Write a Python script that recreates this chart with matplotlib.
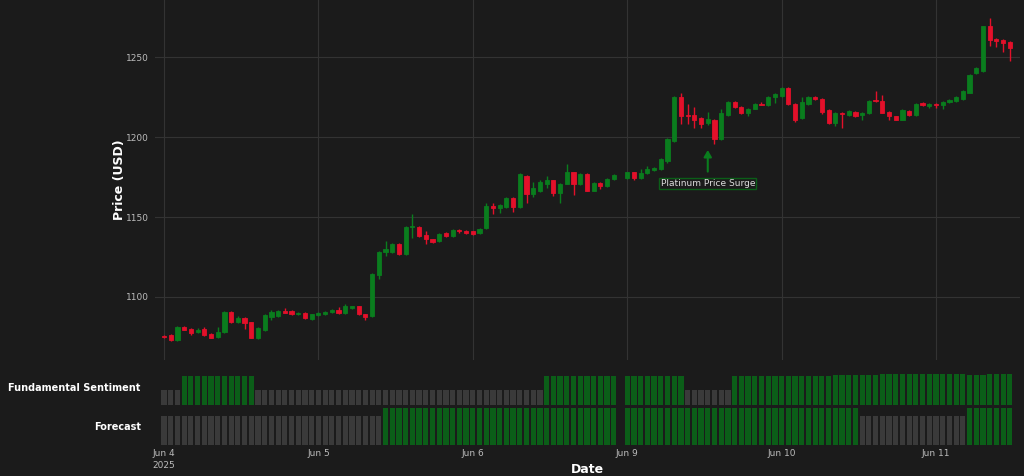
import matplotlib
matplotlib.use("Agg")
import matplotlib.pyplot as plt
import numpy as np

# hourly candles (index 68 = weekend break, no data)
opens = [1075.5, 1076, 1073, 1081, 1080, 1078, 1080, 1077, 1075, 1078,
         1090.5, 1084, 1087, 1084, 1074, 1079, 1087.5, 1088, 1091, 1091,
         1089, 1090, 1086, 1088.5, 1089, 1090.5, 1092, 1090, 1093, 1094,
         1089, 1088, 1113.5, 1128, 1128, 1133, 1127, 1144, 1144, 1138.5,
         1136, 1135, 1140, 1138, 1142, 1141.5, 1141, 1140, 1143, 1157,
         1155.5, 1156, 1162, 1156, 1176, 1164.5, 1166, 1171, 1173, 1165,
         1171, 1178, 1170.5, 1177, 1166.5, 1171.5, 1169.5, 1174, None, 1174.5,
         1178, 1174.5, 1177.5, 1179.5, 1180, 1185, 1197.5, 1225, 1214, 1214,
         1212, 1209, 1211, 1199, 1214, 1222, 1219, 1215.5, 1218, 1221,
         1220, 1225.5, 1226, 1231, 1221, 1212, 1221, 1225.5, 1224, 1217,
         1209, 1215.5, 1214, 1216, 1214, 1215, 1223, 1223, 1216, 1213,
         1211, 1216.5, 1214, 1221.5, 1219.5, 1221, 1220, 1222, 1222.5, 1224,
         1228, 1240, 1241.5, 1269.5, 1261.3, 1261, 1259.6]
closes = [1075, 1073, 1081, 1079.5, 1077.5, 1079.5, 1076, 1074.5, 1078, 1090.5,
          1084, 1086.5, 1083.5, 1074.5, 1080.5, 1088.5, 1090.5, 1091, 1090, 1089,
          1090, 1086.5, 1089, 1090, 1090.5, 1092, 1090, 1094, 1094, 1089,
          1087.5, 1114.5, 1128, 1130, 1133, 1127, 1144, 1144.5, 1138, 1136,
          1134.5, 1139.5, 1138, 1142, 1141, 1140, 1139.5, 1142.5, 1157, 1155.5,
          1157.5, 1162, 1156, 1177, 1164.5, 1168, 1172, 1173.5, 1165, 1171,
          1178.5, 1170.5, 1177, 1166.5, 1171.5, 1169.5, 1174, 1176.5, None, 1178,
          1174.5, 1177.5, 1180, 1181, 1186.5, 1199, 1225.5, 1213, 1213, 1211,
          1208, 1211.5, 1199, 1215.5, 1222, 1219, 1215.5, 1218, 1221, 1220.5,
          1225.5, 1227, 1231, 1221, 1211, 1222, 1225.5, 1224, 1216, 1209,
          1215.5, 1214.5, 1216.5, 1213, 1215.5, 1223, 1222.5, 1215.5, 1213, 1211,
          1217, 1214, 1221, 1220, 1221, 1220, 1222, 1223.5, 1225.5, 1229,
          1239, 1243.5, 1269.5, 1261, 1260.3, 1259, 1256]
highs = [1076, 1076.5, 1081.5, 1081.5, 1080.5, 1080.5, 1081, 1077.5, 1081, 1091,
         1091, 1088, 1087.5, 1084.5, 1081, 1089, 1092, 1091.5, 1093, 1091.5,
         1090.5, 1090.5, 1089.5, 1090.5, 1091, 1092.5, 1093.5, 1095.5, 1094.5, 1094.5,
         1089.5, 1115, 1128.5, 1135, 1133.5, 1133.5, 1144.5, 1152, 1144.5, 1141,
         1136.5, 1140, 1140.5, 1142.5, 1142.5, 1142, 1141.5, 1143, 1159, 1159,
         1158, 1162.5, 1162.5, 1177.5, 1176.5, 1172, 1173, 1175.5, 1173.5, 1171.5,
         1183, 1178.5, 1177.5, 1177.5, 1172, 1172, 1174.5, 1177, None, 1178.5,
         1178.5, 1180, 1182, 1181.5, 1187, 1199.5, 1226, 1228, 1221, 1219,
         1212.5, 1216, 1211.5, 1218, 1222.5, 1222.5, 1219.5, 1218.5, 1221.5, 1222,
         1226, 1227.5, 1231.5, 1231.5, 1221.5, 1225.5, 1226, 1226, 1224.5, 1217.5,
         1216, 1216, 1217, 1216.5, 1216, 1223.5, 1229, 1226.5, 1216.5, 1213.5,
         1217.5, 1217, 1221.5, 1222, 1221.5, 1221.5, 1222.5, 1224, 1226, 1229.5,
         1239.5, 1244, 1270, 1274.5, 1262, 1261.5, 1260]
lows = [1074.5, 1072.5, 1072.5, 1079, 1076, 1077.5, 1075.5, 1074, 1074.5, 1077.5,
        1083.5, 1083.5, 1080, 1074, 1073.5, 1078.5, 1085.5, 1087.5, 1090, 1088.5,
        1088.5, 1086, 1085.5, 1088, 1088.5, 1090, 1089.5, 1089.5, 1092.5, 1088.5,
        1085.5, 1087.5, 1111, 1125.5, 1127.5, 1126.5, 1126.5, 1137, 1137.5, 1133,
        1134, 1134.5, 1137.5, 1137.5, 1140, 1139.5, 1138.5, 1139.5, 1142.5, 1152,
        1152.5, 1155.5, 1153, 1155.5, 1159, 1162.5, 1165.5, 1168, 1163, 1159,
        1170.5, 1164, 1170, 1166, 1166, 1167.5, 1169, 1173.5, None, 1174,
        1173, 1174, 1177, 1179, 1179.5, 1184, 1197, 1208, 1208, 1206,
        1206, 1207.5, 1196, 1198.5, 1213.5, 1218.5, 1214.5, 1213, 1217.5, 1220,
        1219.5, 1221.5, 1225.5, 1220.5, 1209.5, 1211.5, 1220.5, 1223.5, 1214.5, 1208.5,
        1207, 1206, 1213.5, 1212.5, 1210.5, 1214.5, 1222, 1215, 1210.5, 1210.5,
        1210.5, 1213.5, 1213.5, 1219.5, 1218.5, 1218.5, 1218, 1221.5, 1222, 1223.5,
        1227.5, 1239.5, 1241, 1257, 1256.7, 1253.3, 1247.7]

sentiment = ([0.4] * 3 + [0.8] * 11 + [0.4] * 43 + [0.8] * 11 + [None] + [0.8] * 9
             + [0.4] * 7 + [0.8] * 15 + [0.83] * 7 + [0.86] * 13 + [0.83] * 3 + [0.86] * 4)
sentiment_up = ([False] * 3 + [True] * 11 + [False] * 43 + [True] * 11 + [False] + [True] * 9
                + [False] * 7 + [True] * 42)
forecast = [0.78] * 33 + [1.0] * 35 + [None] + [1.0] * 35 + [0.78] * 16 + [1.0] * 7
forecast_up = [False] * 33 + [True] * 35 + [False] + [True] * 35 + [False] * 16 + [True] * 7

tick_pos = [0, 23, 46, 69, 92, 115]
tick_labels = ["Jun 4\n2025", "Jun 5", "Jun 6", "Jun 9", "Jun 10", "Jun 11"]
price_ticks = [1100, 1150, 1200, 1250]

event_idx = 81
event_price = 1192
event_label = "Platinum Price Surge"

BG = "#1b1b1b"
GREEN = "#0a7d1e"
RED = "#e3102a"
BAR_GREEN = "#0b5e18"
BAR_GRAY = "#3a3a3a"
TXT = "#bbbbbb"

fig = plt.figure(figsize=(10.24, 4.76), dpi=100, facecolor=BG)
ax = fig.add_axes([0.151, 0.244, 0.845, 0.756], facecolor=BG)
ax_s = fig.add_axes([0.151, 0.150, 0.845, 0.072], facecolor=BG)
ax_f = fig.add_axes([0.151, 0.066, 0.845, 0.078], facecolor=BG)

x = np.arange(len(opens))
for i in x:
    if opens[i] is None:
        continue
    o, c, h, l = opens[i], closes[i], highs[i], lows[i]
    col = GREEN if c >= o else RED
    ax.vlines(i, l, h, color=col, linewidth=1, zorder=3)
    bottom = min(o, c)
    height = max(abs(c - o), 0.6)
    ax.bar(i, height, bottom=bottom, width=0.62, color=col, edgecolor=col,
           linewidth=0.6, zorder=4)

ax.set_xlim(-1.4, 127.5)
ax.set_ylim(1060.5, 1286)
ax.set_yticks(price_ticks)
ax.set_xticks(tick_pos)
ax.set_xticklabels([])
ax.grid(True, color="#333333", linewidth=0.8)
ax.set_axisbelow(True)
ax.tick_params(colors=TXT, labelsize=6.5, length=0, pad=4)
ax.set_ylabel("Price (USD)", color="white", fontsize=9, fontweight="bold")
ax.yaxis.set_label_coords(-0.033, 0.5)
for s in ax.spines.values():
    s.set_visible(False)

ax.annotate(event_label, xy=(event_idx, event_price), xytext=(event_idx, 1171),
            ha="center", va="center", fontsize=6.5, color="#dddddd",
            bbox=dict(boxstyle="square,pad=0.15", fc=BG, ec=BAR_GREEN, lw=1),
            arrowprops=dict(arrowstyle="-|>,head_width=0.35,head_length=0.6",
                            color=GREEN, lw=1.5, shrinkA=4, shrinkB=0))

for a, vals, ups, top, label in [(ax_s, sentiment, sentiment_up, 0.95, "Fundamental Sentiment"),
                                  (ax_f, forecast, forecast_up, 1.02, "Forecast")]:
    for i, v in enumerate(vals):
        if v is None:
            continue
        a.bar(i, v, width=0.78, color=BAR_GREEN if ups[i] else BAR_GRAY, linewidth=0)
    a.set_xlim(-1.4, 127.5)
    a.set_ylim(0, top)
    a.set_yticks([top / 2])
    a.set_yticklabels([label], fontsize=7, fontweight="bold", color="white")
    a.tick_params(length=0, pad=10)
    a.set_xticks(tick_pos)
    a.set_xticklabels([])
    for s in a.spines.values():
        s.set_visible(False)

ax_f.set_xticklabels(tick_labels, fontsize=6.5, color=TXT, ha="center", va="top")
for t in ax_f.get_xticklabels():
    t.set_linespacing(1.5)
ax_f.tick_params(axis="x", pad=3)
ax_f.set_xlabel("Date", color="white", fontsize=9, fontweight="bold", labelpad=-5)

fig.savefig("out.png", dpi=100, facecolor=BG)
